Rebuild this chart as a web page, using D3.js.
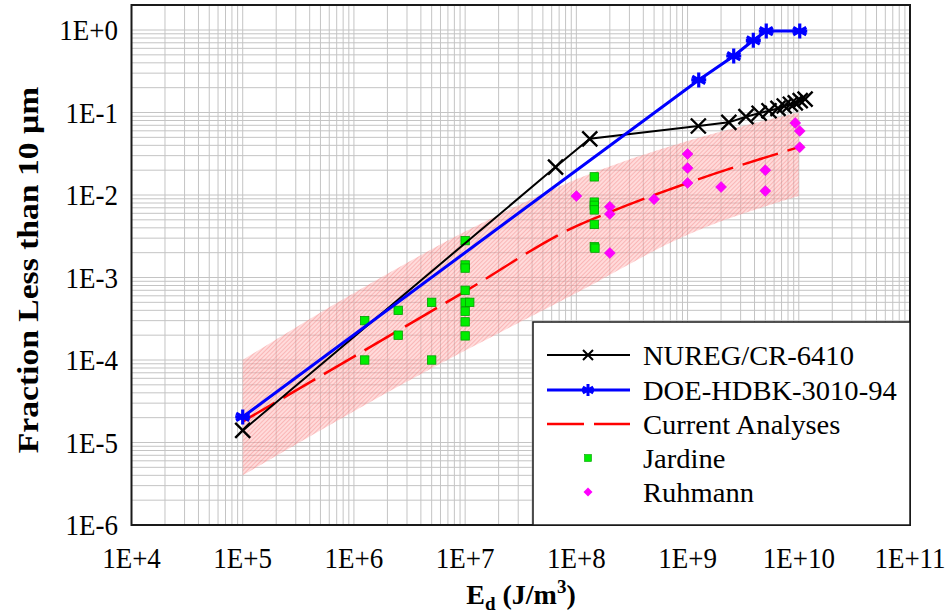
<!DOCTYPE html>
<html><head><meta charset="utf-8">
<script src="https://cdn.jsdelivr.net/npm/d3@7"></script>
<style>body{margin:0;background:#fff} text{font-family:"Liberation Serif","Times New Roman",serif;fill:#000}</style>
</head><body><svg id="c" width="952" height="615"></svg>
<script>
// ---------- data ----------
const xTickValues = [1e4, 1e5, 1e6, 1e7, 1e8, 1e9, 1e10, 1e11];
const xTickLabels = ["1E+4", "1E+5", "1E+6", "1E+7", "1E+8", "1E+9", "1E+10", "1E+11"];
const yTickValues = [1e-6, 1e-5, 1e-4, 1e-3, 1e-2, 1e-1, 1];
const yTickLabels = ["1E-6", "1E-5", "1E-4", "1E-3", "1E-2", "1E-1", "1E+0"];

const nuregX = [1e5, 6.5e7, 1.32e8, 1.25e9, 2.35e9, 3.35e9, 4.4e9, 5.4e9, 6.5e9, 7.4e9, 8.4e9, 9.3e9, 1.03e10, 1.14e10];
const nuregY = [1.4e-5, 0.0218, 0.048, 0.0686, 0.076, 0.089, 0.098, 0.105, 0.112, 0.120, 0.126, 0.131, 0.139, 0.145];

const doeX = [1e5, 1.26e9, 2.6e9, 3.9e9, 5.1e9, 1.02e10];
const doeY = [2.04e-5, 0.248, 0.484, 0.75, 0.97, 0.97];

const currentX = [1e5, 1e6, 1e7, 1e8, 2e8, 1e9, 1e10];
const currentY = [1.8e-5, 1.1e-4, 6.8e-4, 4.2e-3, 6.2e-3, 0.014, 0.038];

const bandX = [1e5, 1e6, 1e7, 1e8, 1e9, 1e10];
const bandUpper = [1e-4, 6.5e-4, 3.6e-3, 0.0155, 0.045, 0.1];
const bandLower = [4e-6, 2.4e-5, 1.3e-4, 6.5e-4, 3.3e-3, 9.7e-3];

const jardineX = [1.25e6, 1.25e6, 2.5e6, 2.5e6, 5e6, 5e6, 1e7, 1e7, 1e7, 1e7, 1e7, 1.1e7, 1e7, 1e7, 1e7, 1.45e8, 1.45e8, 1.45e8, 1.45e8, 1.45e8, 1.45e8, 1.47e8];
const jardineY = [3e-4, 1e-4, 4e-4, 2e-4, 5e-4, 1e-4, 2.8e-3, 1.42e-3, 1.3e-3, 7e-4, 5e-4, 5e-4, 3.9e-4, 2.9e-4, 1.96e-4, 0.0166, 8.2e-3, 7.5e-3, 6.6e-3, 4.4e-3, 2.36e-3, 2.27e-3];

const ruhmannX = [1e8, 2e8, 2e8, 2e8, 5e8, 1e9, 1e9, 1e9, 2e9, 5e9, 5e9, 9.3e9, 1.02e10, 1.02e10];
const ruhmannY = [9.7e-3, 7.2e-3, 5.9e-3, 1.98e-3, 8.9e-3, 0.0314, 0.0212, 0.014, 0.0125, 0.020, 0.0112, 0.0746, 0.0597, 0.038];

const seriesNames = ["NUREG/CR-6410", "DOE-HDBK-3010-94", "Current Analyses", "Jardine", "Ruhmann"];

// ---------- layout ----------
const L = 131.5, R = 910, T = 5, B = 525;
const svg = d3.select("#c");
const x = d3.scaleLog().domain([1e4, 1e11]).range([L, R]);
const y = d3.scaleLog().domain([1e-6, 2.01]).range([B, T]);

const defs = svg.append("defs");
const pat = defs.append("pattern").attr("id", "hatch").attr("width", 3).attr("height", 3)
  .attr("patternUnits", "userSpaceOnUse").attr("patternTransform", "rotate(45)");
pat.append("rect").attr("width", 3).attr("height", 3).attr("fill", "rgba(255,175,175,0.45)");
pat.append("line").attr("x1", 0).attr("y1", 0).attr("x2", 0).attr("y2", 3)
  .attr("stroke", "rgba(235,70,70,0.5)").attr("stroke-width", 1);
defs.append("clipPath").attr("id", "clip").append("rect")
  .attr("x", L).attr("y", T).attr("width", R - L).attr("height", B - T);

// grid
const xGrid = [], yGrid = [];
for (let e = 4; e < 11; e++) for (let k = 1; k <= 9; k++) xGrid.push(k * Math.pow(10, e));
for (let e = -6; e <= 0; e++) for (let k = 1; k <= 9; k++) { const v = k * Math.pow(10, e); if (v <= 2) yGrid.push(v); }
const g = svg.append("g");
g.selectAll(".gx").data(xGrid).enter().append("line")
  .attr("x1", d => x(d)).attr("x2", d => x(d)).attr("y1", T).attr("y2", B)
  .attr("stroke", "#c4c4c4").attr("stroke-width", 1);
g.selectAll(".gy").data(yGrid).enter().append("line")
  .attr("y1", d => y(d)).attr("y2", d => y(d)).attr("x1", L).attr("x2", R)
  .attr("stroke", "#c4c4c4").attr("stroke-width", 1);

const plot = svg.append("g").attr("clip-path", "url(#clip)");

// band
const bandData = bandX.map((v, i) => ({ x: v, lo: bandLower[i], hi: bandUpper[i] }));
plot.append("path").datum(bandData)
  .attr("d", d3.area().x(d => x(d.x)).y0(d => y(d.lo)).y1(d => y(d.hi)).curve(d3.curveMonotoneX))
  .attr("fill", "url(#hatch)");

// lines
const lineGen = d3.line().x(d => x(d[0])).y(d => y(d[1]));
const nureg = nuregX.map((v, i) => [v, nuregY[i]]);
const doe = doeX.map((v, i) => [v, doeY[i]]);
const cur = currentX.map((v, i) => [v, currentY[i]]);

plot.append("path").datum(cur).attr("d", lineGen.curve(d3.curveMonotoneX))
  .attr("fill", "none").attr("stroke", "#ff0000").attr("stroke-width", 2.5).attr("stroke-dasharray", "37,10");
lineGen.curve(d3.curveLinear);

// scatter
plot.selectAll(".jar").data(jardineX.map((v, i) => [v, jardineY[i]])).enter().append("rect")
  .attr("x", d => x(d[0]) - 4.2).attr("y", d => y(d[1]) - 4.2).attr("width", 8.4).attr("height", 8.4)
  .attr("fill", "#00ee00").attr("stroke", "#00a000").attr("stroke-width", 0.8);
const diamond = (cx, cy, r) => `M${cx},${cy - r}L${cx + r},${cy}L${cx},${cy + r}L${cx - r},${cy}Z`;
plot.selectAll(".ruh").data(ruhmannX.map((v, i) => [v, ruhmannY[i]])).enter().append("path")
  .attr("d", d => diamond(x(d[0]), y(d[1]), 5.5))
  .attr("fill", "#ff00ff").attr("stroke", "#e000e0").attr("stroke-width", 0.5);

plot.append("path").datum(nureg).attr("d", lineGen)
  .attr("fill", "none").attr("stroke", "#000").attr("stroke-width", 2);
plot.append("path").datum(doe).attr("d", lineGen)
  .attr("fill", "none").attr("stroke", "#0000ff").attr("stroke-width", 3);

const xMark = (cx, cy, r) => `M${cx - r},${cy - r}L${cx + r},${cy + r}M${cx - r},${cy + r}L${cx + r},${cy - r}`;
const star = (cx, cy, r) => `M${cx},${cy - r}L${cx},${cy + r}M${cx - r * 0.87},${cy - r * 0.5}L${cx + r * 0.87},${cy + r * 0.5}M${cx - r * 0.87},${cy + r * 0.5}L${cx + r * 0.87},${cy - r * 0.5}M${cx - r},${cy}L${cx + r},${cy}`;
plot.selectAll(".nm").data(nureg).enter().append("path")
  .attr("d", d => xMark(x(d[0]), y(d[1]), 7.5)).attr("stroke", "#000").attr("stroke-width", 2.4).attr("fill", "none");
plot.selectAll(".dm").data(doe).enter().append("path")
  .attr("d", d => star(x(d[0]), y(d[1]), 7.5)).attr("stroke", "#0000ff").attr("stroke-width", 3.2).attr("fill", "none");

// border
svg.append("rect").attr("x", L).attr("y", T).attr("width", R - L).attr("height", B - T)
  .attr("fill", "none").attr("stroke", "#1a1a1a").attr("stroke-width", 2);

// tick labels
svg.selectAll(".xt").data(xTickValues).enter().append("text")
  .attr("transform", d => `translate(${x(d)},568) scale(1,1.1)`)
  .attr("text-anchor", "middle").attr("font-size", 27).text((d, i) => xTickLabels[i]);
svg.selectAll(".yt").data(yTickValues).enter().append("text")
  .attr("transform", d => `translate(118,${y(d) + 10}) scale(1,1.1)`)
  .attr("text-anchor", "end").attr("font-size", 27).text((d, i) => yTickLabels[i]);

// axis titles
svg.append("text").attr("transform", "translate(38,270) rotate(-90) scale(1.12,1)")
  .attr("text-anchor", "middle").attr("font-size", 30).attr("font-weight", "bold")
  .text("Fraction Less than 10 \u00b5m");
const xt = svg.append("text").attr("x", 521).attr("y", 604).attr("text-anchor", "middle")
  .attr("font-size", 28).attr("font-weight", "bold");
xt.append("tspan").text("E");
xt.append("tspan").attr("font-size", 19).attr("dy", 6).text("d");
xt.append("tspan").attr("dy", -6).text(" (J/m");
xt.append("tspan").attr("font-size", 19).attr("dy", -11).text("3");
xt.append("tspan").attr("dy", 11).text(")");

// legend
const lg = svg.append("g");
lg.append("rect").attr("x", 533).attr("y", 322).attr("width", 377).attr("height", 203)
  .attr("fill", "#fff").attr("stroke", "#1a1a1a").attr("stroke-width", 1.5);
const rows = [355, 390, 424, 458, 492];
const lx1 = 547, lx2 = 630, lmx = 588;
lg.append("line").attr("x1", lx1).attr("x2", lx2).attr("y1", rows[0]).attr("y2", rows[0]).attr("stroke", "#000").attr("stroke-width", 2);
lg.append("path").attr("d", xMark(lmx, rows[0], 5)).attr("stroke", "#000").attr("stroke-width", 2);
lg.append("line").attr("x1", lx1).attr("x2", lx2).attr("y1", rows[1]).attr("y2", rows[1]).attr("stroke", "#0000ff").attr("stroke-width", 3);
lg.append("path").attr("d", star(lmx, rows[1], 6)).attr("stroke", "#0000ff").attr("stroke-width", 3);
lg.append("line").attr("x1", lx1).attr("x2", lx2).attr("y1", rows[2]).attr("y2", rows[2]).attr("stroke", "#ff0000").attr("stroke-width", 2.5).attr("stroke-dasharray", "37,10");
lg.append("rect").attr("x", lmx - 3.5).attr("y", rows[3] - 3.5).attr("width", 7).attr("height", 7).attr("fill", "#00ee00").attr("stroke", "#00a000").attr("stroke-width", 0.6);
lg.append("path").attr("d", diamond(lmx, rows[4], 4.5)).attr("fill", "#ff00ff");
lg.selectAll(".lt").data(seriesNames).enter().append("text")
  .attr("transform", (d, i) => `translate(643,${rows[i] + 10}) scale(1.02,1)`).attr("font-size", 28).text(d => d);
</script></body></html>
